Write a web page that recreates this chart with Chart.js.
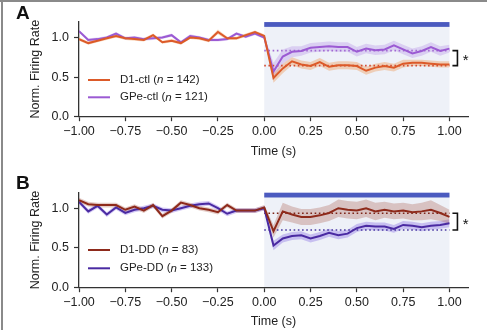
<!DOCTYPE html>
<html><head><meta charset="utf-8">
<script src="https://cdn.jsdelivr.net/npm/chart.js@4.4.1/dist/chart.umd.min.js"></script>
<style>
html,body{margin:0;padding:0;background:#fff;}
#wrap{position:relative;width:487px;height:330px;overflow:hidden;background:#fff;}
canvas{position:absolute;left:0;}
#ca{top:0;}
#cb{top:170px;}
.bl{position:absolute;left:1px;top:0;width:2px;height:330px;background:#8a8a8a;}
.bt{position:absolute;left:0;top:0;width:487px;height:2px;background:#8a8a8a;}
</style></head>
<body>
<div id="wrap">
<canvas id="ca" width="487" height="170"></canvas>
<canvas id="cb" width="487" height="160"></canvas>
<div class="bl"></div><div class="bt"></div>
</div>
<script>
// ---------- data ----------
const TIME = [-1.00,-0.95,-0.90,-0.85,-0.80,-0.75,-0.70,-0.65,-0.60,-0.55,-0.50,-0.45,-0.40,-0.35,-0.30,-0.25,-0.20,-0.15,-0.10,-0.05,
  0.00,0.05,0.10,0.15,0.20,0.25,0.30,0.35,0.40,0.45,0.50,0.55,0.60,0.65,0.70,0.75,0.80,0.85,0.90,0.95,1.00];
const X_TICKS = [-1.00,-0.75,-0.50,-0.25,0.00,0.25,0.50,0.75,1.00];
const Y_TICKS = [0.0,0.5,1.0];

// Panel A
const D1_CTL = [0.98,0.93,0.96,0.99,1.02,0.99,0.98,0.97,1.03,0.94,0.96,0.93,1.00,0.99,0.96,1.07,0.99,0.99,1.03,1.07,
  1.02,0.49,0.61,0.70,0.66,0.64,0.69,0.63,0.65,0.65,0.64,0.58,0.62,0.64,0.62,0.67,0.68,0.68,0.67,0.66,0.66];
const D1_CTL_SEM = [0.02,0.02,0.02,0.02,0.02,0.02,0.02,0.02,0.02,0.02,0.02,0.02,0.02,0.02,0.02,0.03,0.02,0.02,0.02,0.02,
  0.02,0.06,0.06,0.05,0.05,0.05,0.05,0.05,0.05,0.05,0.05,0.05,0.05,0.05,0.05,0.05,0.04,0.04,0.04,0.04,0.04];
const GPE_CTL = [1.08,0.97,0.98,1.00,1.05,0.99,1.00,0.98,0.99,1.00,1.03,0.94,1.02,1.00,0.97,0.97,0.98,1.05,1.01,1.05,
  1.00,0.57,0.76,0.82,0.83,0.87,0.88,0.89,0.88,0.88,0.82,0.86,0.84,0.85,0.90,0.85,0.80,0.83,0.88,0.83,0.86];
const GPE_CTL_SEM = [0.02,0.02,0.02,0.02,0.02,0.02,0.02,0.02,0.02,0.02,0.02,0.02,0.02,0.02,0.02,0.02,0.02,0.02,0.02,0.02,
  0.02,0.11,0.09,0.07,0.06,0.06,0.06,0.06,0.06,0.06,0.06,0.06,0.06,0.06,0.06,0.06,0.06,0.06,0.06,0.06,0.05];
const MEAN_A = [0.645, 0.835];   // D1-ctl, GPe-ctl post-stimulus means
const N_A = [142, 121];
const LABELS_A = ['D1-ctl', 'GPe-ctl'];

// Panel B
const D1_DD = [1.10,1.05,1.04,1.04,1.04,0.98,1.02,0.97,1.04,0.90,0.97,1.07,1.04,1.00,0.98,0.95,1.04,0.97,0.97,0.97,
  1.01,0.71,0.96,0.92,0.89,0.89,0.91,0.94,1.00,0.98,0.97,1.00,0.96,0.98,0.96,0.97,0.95,0.96,0.98,0.94,0.89];
const D1_DD_SEM = [0.03,0.03,0.03,0.03,0.03,0.03,0.03,0.03,0.03,0.03,0.03,0.03,0.03,0.03,0.03,0.03,0.03,0.03,0.03,0.03,
  0.03,0.08,0.11,0.10,0.10,0.10,0.10,0.10,0.11,0.11,0.11,0.11,0.11,0.10,0.10,0.10,0.10,0.11,0.12,0.10,0.09];
const GPE_DD = [1.08,0.96,1.03,0.92,1.01,0.94,0.98,1.00,1.03,0.98,0.97,1.00,1.03,1.05,1.06,1.00,0.93,0.97,0.97,0.97,
  1.00,0.53,0.62,0.65,0.66,0.62,0.65,0.69,0.66,0.68,0.75,0.78,0.77,0.77,0.74,0.79,0.78,0.76,0.78,0.79,0.81];
const GPE_DD_SEM = [0.03,0.03,0.03,0.03,0.03,0.03,0.03,0.03,0.03,0.03,0.03,0.03,0.03,0.03,0.03,0.03,0.03,0.03,0.03,0.03,
  0.03,0.06,0.05,0.05,0.05,0.05,0.05,0.05,0.05,0.05,0.05,0.05,0.05,0.05,0.05,0.05,0.05,0.05,0.05,0.05,0.05];
const MEAN_B = [0.936, 0.726];   // D1-DD, GPe-DD post-stimulus means
const N_B = [83, 133];
const LABELS_B = ['D1-DD', 'GPe-DD'];

const STIM = [0, 1];
const STIM_LEVEL = 1.165;

// ---------- drawing ----------
const FONT = "'Liberation Sans', Arial, Helvetica, sans-serif";
const TXT = '#222';
const AX = '#333';

function pts(arr){ return TIME.map((t,i)=>({x:t,y:arr[i]})); }
function bandSets(mean, sem, color){
  return [
    {data: TIME.map((t,i)=>({x:t,y:mean[i]+sem[i]})), fill:'+1', backgroundColor:color, borderColor:'transparent', borderWidth:0, pointRadius:0, order:10},
    {data: TIME.map((t,i)=>({x:t,y:mean[i]-sem[i]})), fill:false, backgroundColor:color, borderColor:'transparent', borderWidth:0, pointRadius:0, order:10}
  ];
}
function meanLine(m, color){
  return {data:[{x:STIM[0],y:m},{x:STIM[1],y:m}], borderColor:color, borderWidth:1.6, borderDash:[1.6,2.6], pointRadius:0, fill:false, order:5};
}
function fmtX(v){ return (v<0?'\u2212':'') + Math.abs(v).toFixed(2); }

function makePanel(id, cfg){
  const series = cfg.series;
  let datasets = [];
  series.forEach(s=>{ datasets = datasets.concat(bandSets(s.mean, s.sem, s.band)); });
  series.forEach(s=>{ datasets.push(meanLine(s.avg, s.dot)); });
  series.forEach(s=>{ datasets.push({data:pts(s.mean), borderColor:s.color, borderWidth:2, pointRadius:0, fill:false, tension:0, order:s.order}); });

  const deco = {
    id:'deco',
    beforeDraw(chart){
      const {ctx, scales:{x,y}} = chart;
      ctx.save();
      ctx.fillStyle = '#eef1f8';
      const x0 = x.getPixelForValue(STIM[0]), x1 = x.getPixelForValue(STIM[1]);
      const yt = y.getPixelForValue(STIM_LEVEL), yb = y.getPixelForValue(0);
      ctx.fillRect(x0, yt, x1-x0, yb-yt);
      ctx.restore();
    },
    afterDatasetsDraw(chart){
      const {ctx, scales:{x,y}} = chart;
      ctx.save();
      ctx.fillStyle = '#4b5abf';
      const x0 = x.getPixelForValue(STIM[0]), x1 = x.getPixelForValue(STIM[1]);
      const yc = y.getPixelForValue(STIM_LEVEL);
      ctx.fillRect(x0, yc-2.4, x1-x0, 4.8);
      ctx.restore();
    },
    afterDraw(chart){
      const {ctx, scales:{x,y}} = chart;
      ctx.save();
      // legend
      series.forEach((s,i)=>{
        const yy = cfg.legendY[i];
        ctx.strokeStyle = s.color; ctx.lineWidth = 2;
        ctx.beginPath(); ctx.moveTo(88, yy); ctx.lineTo(110, yy); ctx.stroke();
        ctx.fillStyle = TXT; ctx.textBaseline = 'middle'; ctx.textAlign = 'left';
        let xx = 120;
        const parts = [[s.label+' (', false], ['n', true], [' = '+s.n+')', false]];
        parts.forEach(([t,it])=>{
          ctx.font = (it?'italic ':'') + '11.5px ' + FONT;
          ctx.fillText(t, xx, yy);
          xx += ctx.measureText(t).width;
        });
      });
      // bracket
      const bx = x.getPixelForValue(1.043), bl = x.getPixelForValue(1.016);
      const ya = y.getPixelForValue(series[0].avg), yb2 = y.getPixelForValue(series[1].avg);
      ctx.strokeStyle = '#111'; ctx.lineWidth = 1.6;
      ctx.beginPath(); ctx.moveTo(bl, ya); ctx.lineTo(bx, ya); ctx.lineTo(bx, yb2); ctx.lineTo(bl, yb2); ctx.stroke();
      ctx.fillStyle = '#111'; ctx.font = '15px ' + FONT; ctx.textAlign = 'center'; ctx.textBaseline = 'middle';
      ctx.fillText('*', x.getPixelForValue(1.088), (ya+yb2)/2 + 3);
      // panel letter
      ctx.font = 'bold 19px ' + FONT; ctx.textAlign = 'left'; ctx.textBaseline = 'alphabetic';
      ctx.fillText(cfg.letter, 16, cfg.letterY);
      ctx.restore();
    }
  };

  return new Chart(document.getElementById(id), {
    type:'line',
    data:{datasets},
    plugins:[deco],
    options:{
      responsive:false, animation:false, devicePixelRatio:1,
      layout:{padding:{left:0,right:19,top:cfg.padTop,bottom:0}},
      plugins:{legend:{display:false}, tooltip:{enabled:false}},
      scales:{
        x:{type:'linear', min:-1, max:1.1,
          afterBuildTicks:s=>{ s.ticks = X_TICKS.map(v=>({value:v})); },
          afterFit:s=>{ s.height = cfg.xHeight; },
          ticks:{callback:v=>fmtX(v), autoSkip:false, maxRotation:0, padding:3, color:TXT, font:{family:FONT,size:12.5,lineHeight:1.2}},
          grid:{drawOnChartArea:false, drawTicks:true, tickLength:4.5, color:AX, tickWidth:1.2},
          border:{display:true, color:AX, width:1.3},
          title:{display:true, text:'Time (s)', color:TXT, font:{family:FONT,size:12.5,lineHeight:1.2}, padding:{top:0,bottom:cfg.titlePad}}
        },
        y:{type:'linear', min:0, max:1.2,
          afterBuildTicks:s=>{ s.ticks = Y_TICKS.map(v=>({value:v})); },
          afterFit:s=>{ s.width = 79; },
          ticks:{callback:v=>v.toFixed(1), padding:5, color:TXT, font:{family:FONT,size:12.5,lineHeight:1.2}},
          grid:{drawOnChartArea:false, drawTicks:true, tickLength:5, color:AX, tickWidth:1.2},
          border:{display:true, color:AX, width:1.3},
          title:{display:true, text:'Norm. Firing Rate', color:TXT, font:{family:FONT,size:12.5,lineHeight:1.2}, padding:{top:28.5,bottom:0}}
        }
      }
    }
  });
}

makePanel('ca', {
  letter:'A', letterY:19, padTop:21.7, xHeight:53.3, titlePad:11, legendY:[80,97.3],
  series:[
    {label:LABELS_A[0], n:N_A[0], mean:D1_CTL, sem:D1_CTL_SEM, avg:MEAN_A[0], color:'#dc5a29', band:'rgba(238,150,80,0.38)', dot:'#d24a30', order:1},
    {label:LABELS_A[1], n:N_A[1], mean:GPE_CTL, sem:GPE_CTL_SEM, avg:MEAN_A[1], color:'#9b5ad3', band:'rgba(170,120,225,0.28)', dot:'#a26ad2', order:2}
  ]
});
makePanel('cb', {
  letter:'B', letterY:18.5, padTop:22.3, xHeight:42.3, titlePad:0.8, legendY:[80,98.3],
  series:[
    {label:LABELS_B[0], n:N_B[0], mean:D1_DD, sem:D1_DD_SEM, avg:MEAN_B[0], color:'#8e2a1b', band:'rgba(165,85,70,0.3)', dot:'#7c2418', order:1},
    {label:LABELS_B[1], n:N_B[1], mean:GPE_DD, sem:GPE_DD_SEM, avg:MEAN_B[1], color:'#4a2aa2', band:'rgba(120,90,225,0.33)', dot:'#4a38a2', order:2}
  ]
});
</script>
</body></html>
